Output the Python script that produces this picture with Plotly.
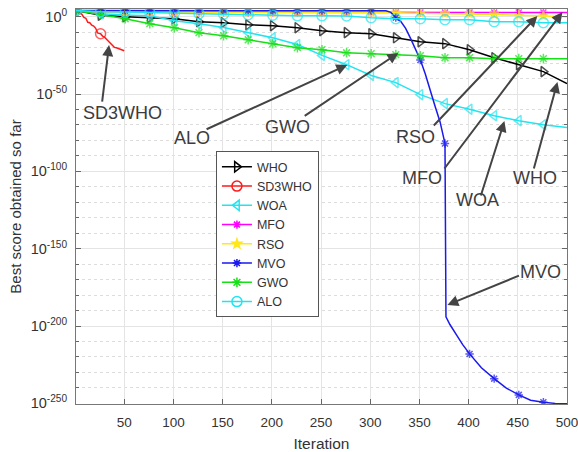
import plotly.graph_objects as go

# ---------------- data (log10 of best score) ----------------
iters = list(range(1, 500, 25)) + [500]          # 1, 26, ..., 476, 500

who_exp = [4.0, 1.0, 0.0, -0.6, -1.3, -3.2, -3.9, -5.2, -5.8, -7.1,
           -9.0, -10.3, -11.0, -13.6, -16.2, -17.4, -21.3, -26.5, -31.0, -35.5, -43.3]
woa_exp = [4.0, 2.0, 1.2, 0.6, -2.6, -4.5, -7.0, -10.3, -13.6, -18.0,
           -25.0, -31.0, -38.0, -42.6, -50.4, -56.2, -59.8, -64.0, -67.2, -69.8, -71.7]
mfo_exp = [4.0, 3.0, 2.9, 2.9, 2.9, 2.8, 2.8, 2.8, 2.8, 2.8,
           2.8, 2.8, 2.8, 2.8, 2.8, 2.8, 2.8, 2.8, 2.8, 2.8, 2.8]
rso_exp = [4.0, 3.0, 2.9, 2.9, 2.8, 2.8, 2.8, 2.7, 2.7, 2.7,
           2.6, 2.6, 2.6, 2.5, 2.3, 2.1, 1.8, 1.4, 0.9, 0.5, 0.0]
gwo_exp = [4.0, 1.3, -1.3, -4.5, -7.1, -10.3, -12.3, -14.9, -17.4, -20.0,
           -21.3, -23.3, -23.9, -24.5, -25.2, -26.5, -26.5, -27.1, -27.1, -27.1, -27.1]
alo_exp = [4.0, 3.2, 3.0, 2.6, 2.3, 2.0, 1.6, 1.3, 1.0, 0.6,
           0.6, 0.5, -0.6, -1.3, -1.3, -1.9, -1.9, -3.2, -3.2, -3.9, -3.9]

sd3_iters = [1, 3, 5, 7, 9, 11, 13, 15, 17, 19, 21, 23, 25, 26, 28, 30, 32, 34, 36, 38,
             40, 42, 44, 46, 48, 50]
sd3_exp = [4.0, 3.2, 1.9, 1.5, -0.5, -1.0, -3.6, -3.9, -5.5, -6.0, -7.5, -10.5, -10.9, -11.0,
           -12.5, -13.2, -14.5, -15.8, -17.6, -18.5, -19.8, -20.1, -20.6, -20.9, -21.5, -22.0]

mvo_iters = [1, 26, 51, 76, 101, 126, 151, 176, 201, 226, 251, 276, 301, 316, 321, 326,
             331, 336, 341, 346, 351, 356, 361, 366, 371, 376, 377, 381, 388, 394, 401,
             413, 426, 438, 451, 463, 476, 488, 500]
mvo_exp = [4.0, 4.0, 4.0, 4.0, 4.0, 4.0, 4.0, 4.0, 4.0, 4.0, 4.0, 4.0, 4.0, 3.8, 2.8, -0.6,
           -3.0, -7.5, -14.0, -21.0, -28.0, -37.0, -48.0, -58.0, -68.0, -82.0, -194.0, -199.0,
           -206.0, -212.0, -218.0, -227.0, -234.0, -240.0, -244.5, -248.0, -249.3, -250.0, -250.2]

y_tick_exp = [0, -50, -100, -150, -200, -250]
x_ticks = [50, 100, 150, 200, 250, 300, 350, 400, 450, 500]

names = ["WHO", "SD3WHO", "WOA", "MFO", "RSO", "MVO", "GWO", "ALO"]

# ---------------- styles ----------------
FONT = "Liberation Sans, Arial, sans-serif"
marker_iters = set(range(1, 500, 25))

series = [
    ("WHO", iters, who_exp, "#000000", "triangle-right-open", 9),
    ("SD3WHO", sd3_iters, sd3_exp, "#FF1A1A", "circle-open", 10),
    ("WOA", iters, woa_exp, "#22E4F0", "triangle-left-open", 9),
    ("MFO", iters, mfo_exp, "#FF00FF", "asterisk-open", 7),
    ("RSO", iters, rso_exp, "#FFE81A", "star", 7),
    ("MVO", mvo_iters, mvo_exp, "#1A1AEE", "asterisk-open", 7),
    ("GWO", iters, gwo_exp, "#16E016", "asterisk-open", 8),
    ("ALO", iters, alo_exp, "#22E4F0", "circle-open", 10),
]

fig = go.Figure()
for name, xs, es, col, sym, sz in series:
    sizes = [sz if x in marker_iters else 0 for x in xs]
    fig.add_trace(go.Scatter(
        x=xs, y=[10 ** e for e in es], mode="lines+markers", name=name,
        showlegend=False, legendgroup=name,
        line=dict(color=col, width=1.5),
        marker=dict(symbol=sym, size=sizes, color=col,
                    line=dict(color=col, width=1.5)),
    ))
for name, xs, es, col, sym, sz in series:
    fig.add_trace(go.Scatter(
        x=[None], y=[None], mode="lines+markers", name=name, legendgroup=name,
        line=dict(color=col, width=1.5),
        marker=dict(symbol=sym, size=sz, color=col, line=dict(color=col, width=1.5)),
    ))

# ---------------- annotations ----------------
labels = [  # text, text-center (iter, exp)
    ("SD3WHO", 47.8, -62.2),
    ("ALO", 119.0, -78.4),
    ("GWO", 215.6, -71.3),
    ("RSO", 345.9, -77.8),
    ("MFO", 353.0, -104.3),
    ("WOA", 408.9, -118.5),
    ("WHO", 467.9, -104.3),
    ("MVO", 473.0, -165.0),
]
arrows = [  # tail (iter, exp) -> tip (iter, exp)
    (27.4, -55.8, 34.6, -18.3),
    (132.2, -73.2, 276.7, -31.2),
    (231.9, -64.8, 328.6, -23.4),
    (363.2, -71.3, 469.9, 0.5),
    (374.3, -99.1, 495.4, 3.0),
    (412.0, -116.6, 436.4, -67.4),
    (465.9, -99.1, 490.3, -42.2),
    (452.7, -167.0, 378.4, -186.4),
]
annotations = []
for t, x, y in labels:
    annotations.append(dict(x=x, y=y, xref="x", yref="y", text=t, showarrow=False,
                            font=dict(family=FONT, size=18, color="#3c3c3c")))
for x0, y0, x1, y1 in arrows:
    annotations.append(dict(x=x1, y=y1, ax=x0, ay=y0, xref="x", yref="y",
                            axref="x", ayref="y", text="", showarrow=True,
                            arrowhead=2, arrowsize=1.1, arrowwidth=2,
                            arrowcolor="#444444"))

fig.update_layout(
    width=578, height=452,
    margin=dict(l=76, r=11, t=9, b=48),
    paper_bgcolor="white", plot_bgcolor="white",
    font=dict(family=FONT, size=13, color="#333333"),
    annotations=annotations,
    legend=dict(x=0.285, y=0.64, xanchor="left", yanchor="top",
                bgcolor="white", bordercolor="#555555", borderwidth=1,
                font=dict(family=FONT, size=12.5, color="#333333"),
                tracegroupgap=0),
    xaxis=dict(
        range=[1, 500], tickvals=x_ticks, ticks="inside", ticklen=5,
        tickcolor="#666666", showline=True, linecolor="#777777", linewidth=1,
        mirror="ticks", showgrid=True, gridcolor="#e4e4e4", zeroline=False,
        tickfont=dict(size=13.5), ticklabelstandoff=6, automargin=False,
        ticklabeloverflow="allow",
        title=dict(text="Iteration", font=dict(size=15.5), standoff=10),
    ),
    yaxis=dict(
        type="log", range=[-250.4, 5],
        tickvals=[10 ** e for e in y_tick_exp],
        ticktext=["10<sup>%d</sup>" % e for e in y_tick_exp],
        ticks="inside", ticklen=5, tickcolor="#666666",
        showline=True, linecolor="#777777", linewidth=1, mirror="ticks",
        showgrid=True, gridcolor="#e4e4e4", zeroline=False,
        tickfont=dict(size=14.5), ticklabelstandoff=5, automargin=False,
        ticklabeloverflow="allow",
        minor=dict(tickvals=[10 ** e for e in range(-240, 0, 10) if e % 50],
                   ticks="inside", ticklen=3, tickcolor="#666666",
                   showgrid=True, gridcolor="#dddddd", griddash="dot"),
        title=dict(text="Best score obtained so far", font=dict(size=15), standoff=5),
    ),
)

fig.write_html("out.html")
